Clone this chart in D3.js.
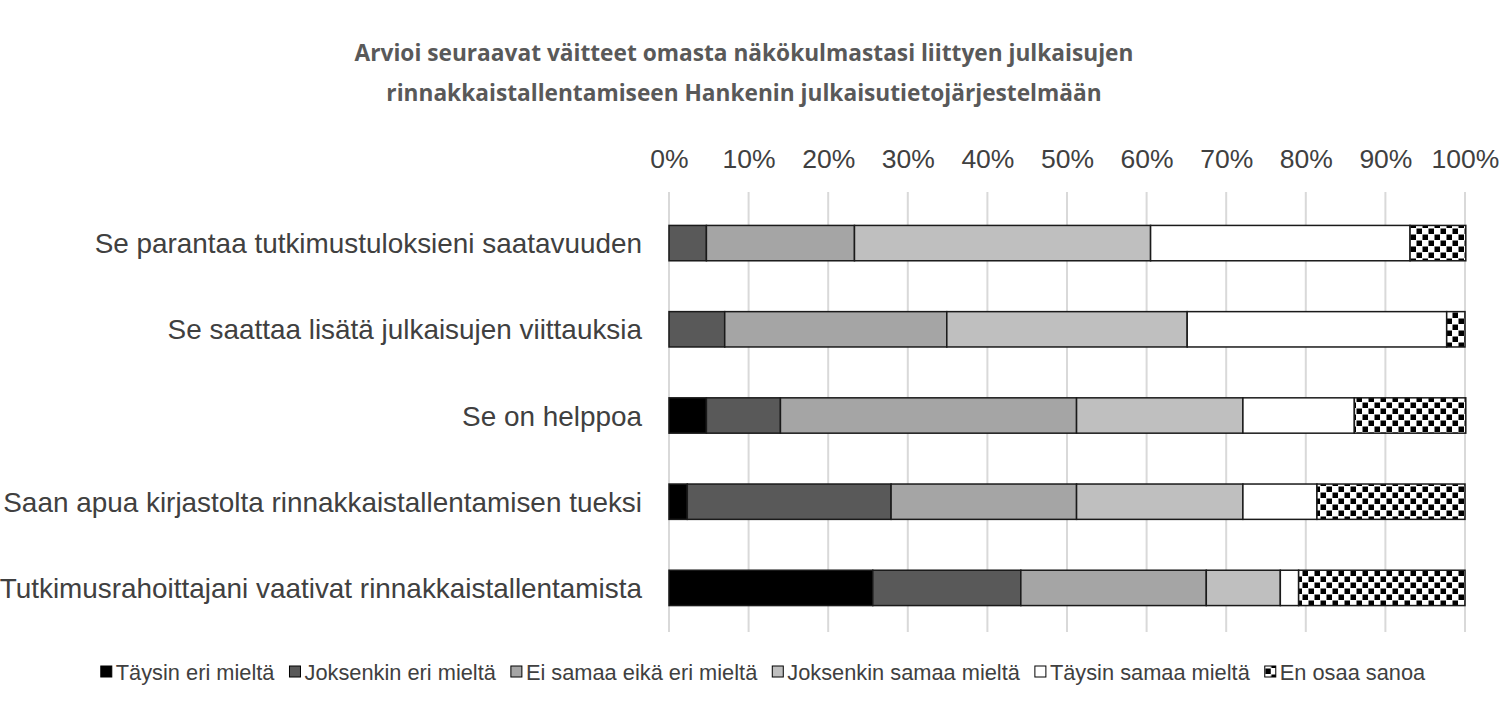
<!DOCTYPE html>
<html><head><meta charset="utf-8">
<script src="https://cdn.jsdelivr.net/npm/d3@7"></script>
<style>body{margin:0;background:#fff}</style>
</head><body>
<svg id="chart" width="1501" height="704"></svg>
<script>
const titleLines = ["Arvioi seuraavat väitteet omasta näkökulmastasi liittyen julkaisujen",
                    "rinnakkaistallentamiseen Hankenin julkaisutietojärjestelmään"];
const categories = ["Se parantaa tutkimustuloksieni saatavuuden",
                    "Se saattaa lisätä julkaisujen viittauksia",
                    "Se on helppoa",
                    "Saan apua kirjastolta rinnakkaistallentamisen tueksi",
                    "Tutkimusrahoittajani vaativat rinnakkaistallentamista"];
const seriesNames = ["Täysin eri mieltä","Joksenkin eri mieltä","Ei samaa eikä eri mieltä",
                     "Joksenkin samaa mieltä","Täysin samaa mieltä","En osaa sanoa"];
// percentages per category, in series order
const taysinEri     = [0.0, 0.0, 4.7, 2.3, 25.6];
const joksenkinEri  = [4.7, 7.0, 9.3, 25.6, 18.6];
const eiSamaaEiEri  = [18.6, 27.9, 37.2, 23.3, 23.3];
const joksenkinSamaa= [37.2, 30.2, 20.9, 20.9, 9.3];
const taysinSamaa   = [32.6, 32.6, 14.0, 9.3, 2.3];
const enOsaa        = [7.0, 2.3, 14.0, 18.6, 20.9];
const tickValues = [0,10,20,30,40,50,60,70,80,90,100];

const seriesValues = [taysinEri, joksenkinEri, eiSamaaEiEri, joksenkinSamaa, taysinSamaa, enOsaa];
const fills = ["#000000","#595959","#a5a5a5","#bfbfbf","#ffffff","url(#checker)"];

const svg = d3.select("#chart");
const defs = svg.append("defs");
const pat = defs.append("pattern").attr("id","checker").attr("patternUnits","userSpaceOnUse")
  .attr("width",12).attr("height",12);
pat.append("rect").attr("width",12).attr("height",12).attr("fill","#fff");
pat.append("rect").attr("x",0.5).attr("y",0.5).attr("width",5.5).attr("height",5.5).attr("fill","#000");
pat.append("rect").attr("x",6.5).attr("y",6.5).attr("width",5.5).attr("height",5.5).attr("fill","#000");

const x = d3.scaleLinear().domain([0,100]).range([669,1465]);
const y = d3.scaleBand().domain(categories).range([200,631]).paddingInner(0.59).paddingOuter(0.295);

// title
svg.append("g").selectAll("text").data(titleLines).join("text")
  .attr("x",744).attr("y",(d,i)=>61+i*40)
  .attr("text-anchor","middle")
  .attr("font-family","'Open Sans', sans-serif").attr("font-weight","bold")
  .attr("font-size",22.7).attr("fill","#595959")
  .text(d=>d);

// gridlines
svg.append("g").selectAll("line").data(tickValues).join("line")
  .attr("x1",d=>x(d)).attr("x2",d=>x(d)).attr("y1",192).attr("y2",632)
  .attr("stroke","#d9d9d9").attr("stroke-width",2);

// top axis
const axis = d3.axisTop(x).tickValues(tickValues).tickFormat(d=>d+"%").tickSize(0).tickPadding(0);
const ag = svg.append("g").attr("transform","translate(0,168)").call(axis);
ag.select(".domain").remove();
ag.selectAll("text").attr("font-family","'Liberation Sans', Arial, sans-serif")
  .attr("font-size",26.5).attr("fill","#404040");

// stacked data
const rows = categories.map((c,i)=>{ const o={cat:c}; seriesNames.forEach((s,j)=>o[s]=seriesValues[j][i]); return o; });
const stack = d3.stack().keys(seriesNames)(rows);

svg.append("g").selectAll("g").data(stack).join("g")
  .attr("fill",(d,i)=>fills[i])
  .selectAll("rect").data(d=>d).join("rect")
  .attr("x",d=>x(d[0])).attr("width",d=>Math.max(0,x(d[1])-x(d[0])))
  .attr("y",d=>y(d.data.cat)).attr("height",y.bandwidth())
  .attr("stroke",d=>(d[1]-d[0])>0?"#1a1a1a":"none").attr("stroke-width",1.5);

// category labels
svg.append("g").selectAll("text").data(categories).join("text")
  .attr("x",642).attr("y",d=>y(d)+y.bandwidth()/2+10)
  .attr("text-anchor","end")
  .attr("font-family","'Liberation Sans', Arial, sans-serif")
  .attr("font-size",27.9).attr("fill","#404040").text(d=>d);

// legend
const lg = svg.append("g");
const items = lg.selectAll("g").data(seriesNames).join("g");
items.append("rect").attr("x",0).attr("y",-14).attr("width",11).attr("height",11)
  .attr("fill",(d,i)=>fills[i]).attr("stroke","#000").attr("stroke-width",1);
items.append("text").attr("x",15).attr("y",0)
  .attr("font-family","'Liberation Sans', Arial, sans-serif")
  .attr("font-size",21.8).attr("fill","#404040").text(d=>d);
let widths = [];
items.each(function(){ widths.push(15 + d3.select(this).select("text").node().getComputedTextLength()); });
const gap = 15;
const total = d3.sum(widths) + gap*(widths.length-1);
let cx = 763 - total/2;
items.attr("transform",(d,i)=>{ const t=`translate(${cx},680)`; cx += widths[i]+gap; return t; });
</script>
</body></html>
